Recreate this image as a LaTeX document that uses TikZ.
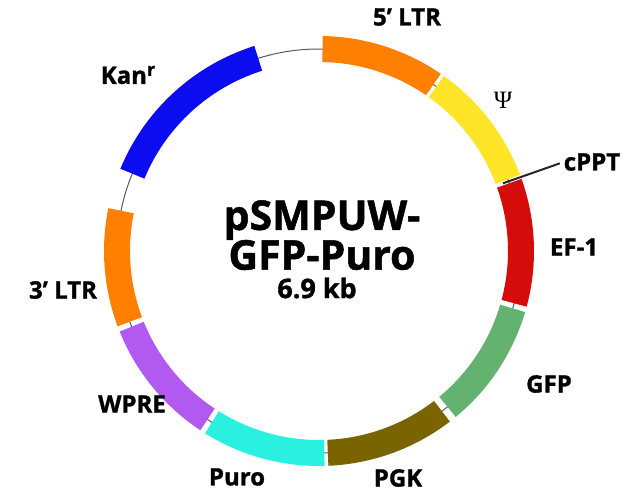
\documentclass[tikz,border=0pt]{standalone}
\usepackage{fontspec}
\setmainfont{Open Sans}[BoldFeatures={FakeBold=1.2}]
\newfontfamily\psifont{Liberation Serif}
\usepackage{tikz}
\usetikzlibrary{calc}
\definecolor{ltrorange}{RGB}{255,128,0}
\definecolor{psiyellow}{RGB}{255,228,40}
\definecolor{efred}{RGB}{212,12,10}
\definecolor{gfpgreen}{RGB}{100,178,112}
\definecolor{pgkolive}{RGB}{122,100,0}
\definecolor{purocyan}{RGB}{42,240,224}
\definecolor{wprepurple}{RGB}{178,90,240}
\definecolor{kanblue}{RGB}{12,12,240}
\tikzstyle{backbone}=[draw,line width=1pt,black!65]
\tikzstyle{site}=[draw,line width=2pt,black!85]
\tikzstyle{lbl}=[font=\fontsize{24}{24}\selectfont\bfseries,inner sep=0pt]
\tikzstyle{bigtitle}=[font=\fontsize{41}{41}\selectfont\bfseries,inner sep=0pt]
\tikzstyle{subtitle}=[font=\fontsize{27}{27}\selectfont\bfseries,inner sep=0pt]

\begin{document}
\begin{tikzpicture}[x=1pt,y=1pt]

  \def\ro{215};
  \def\ri{189};
  \def\rr{202};

  \useasboundingbox (-319,-242) rectangle (317,251);

  % plasmid backbone
  \path[backbone] (0,0) circle (\rr);

  % features, clockwise from the top
  \foreach \a/\b/\col in {89/55.5/ltrorange, 54.5/20.8/psiyellow, 19.6/-15/efred,
                          -16.5/-50.5/gfpgreen, -52.5/-87.5/pgkolive, -88.5/-122/purocyan,
                          -123.5/-158/wprepurple, -159.5/-191.5/ltrorange, 157.5/107.5/kanblue}
         \fill[\col] (\a:\ro) arc[start angle=\a, end angle=\b, radius=\ro]
                  -- (\b:\ri) arc[start angle=\b, end angle=\a, radius=\ri] -- cycle;

  % feature labels
  \foreach \x/\y/\name/\label in {88/234/ltrfive/{5’ LTR}, 255/4/efone/{EF-1}, 230/-133/gfp/{GFP},
                                  79/-227/pgk/{PGK}, -82/-226/puro/{Puro}, -187/-153/wpre/{WPRE},
                                  -256/-39/ltrthree/{3’ LTR}, 273/89/cppt/{cPPT}}
          \node[lbl] (\name) at (\x,\y) {\label};

  \node[lbl] (kan) at (-191,176) {Kan\raisebox{8pt}{\fontsize{18}{18}\selectfont r}};
  \node[inner sep=0pt,font=\fontsize{25}{25}\selectfont\psifont] (psi) at (184,151) {Ψ};

  % cPPT site
  \coordinate (cpptbase) at (20.2:196);
  \draw[site, shorten >=4pt] (cpptbase) -- (cppt.west);

  % name and size
  \node[bigtitle] (tone) at (3,31) {pSMPUW-};
  \node[bigtitle] (ttwo) at (3,-4) {GFP-Puro};
  \node[subtitle] (size) at (-2,-37) {6.9 kb};

\end{tikzpicture}
\end{document}
